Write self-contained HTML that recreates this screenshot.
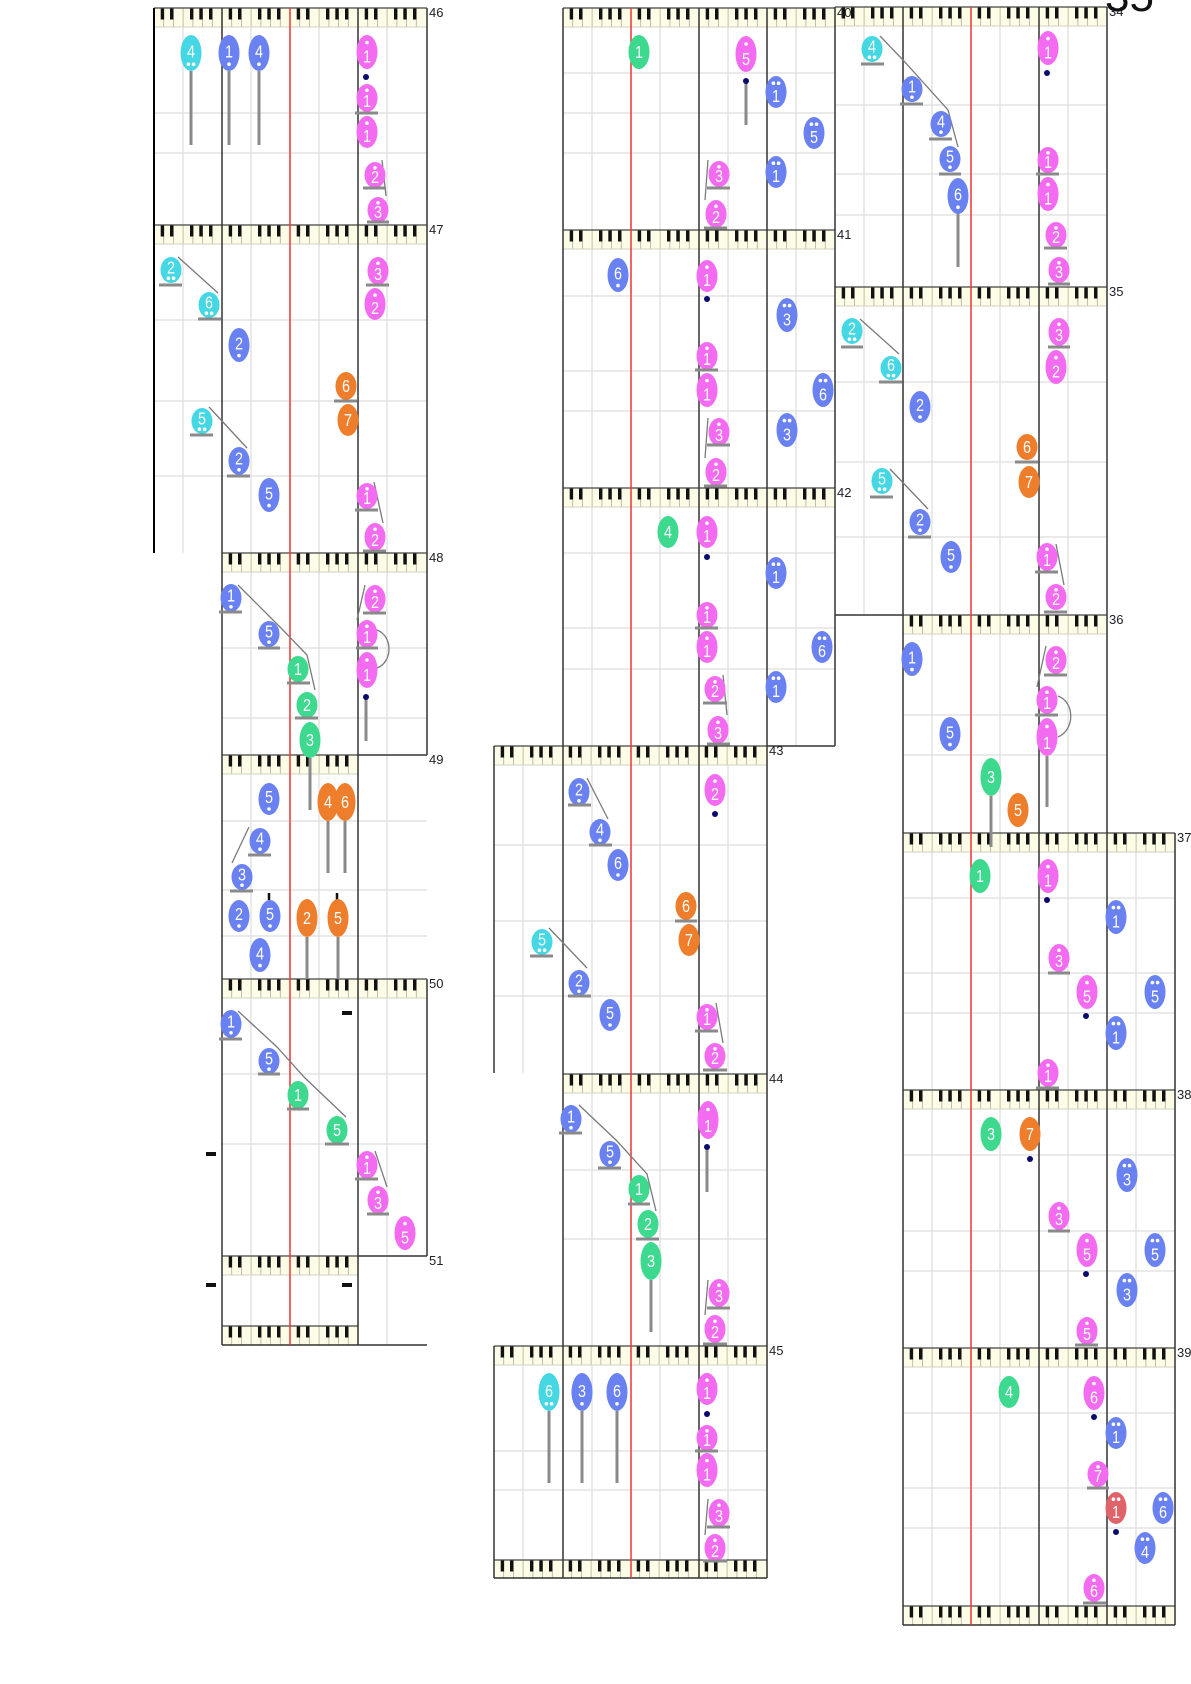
<!DOCTYPE html>
<html>
<head>
<meta charset="utf-8">
<style>
html,body{margin:0;padding:0;background:#fff;}
svg{display:block;}
.n text{fill:#fff;font-size:18px;text-anchor:middle;font-family:"Liberation Sans Narrow","Liberation Sans",sans-serif;transform:scaleX(.8);}
.n circle{fill:#fff;}
.c{fill:#45d8e4;}
.b{fill:#6a82f1;}
.p{fill:#f36bf0;}
.g{fill:#3dd98e;}
.o{fill:#ee7e2b;}
.r{fill:#e0636a;}
.lbl{font-family:"Liberation Sans",sans-serif;font-size:13px;fill:#222;}
</style>
</head>
<body>
<svg width="1191" height="1684" viewBox="0 0 1191 1684" xmlns="http://www.w3.org/2000/svg">
<defs>
<pattern id="kb" patternUnits="userSpaceOnUse" width="68" height="19">
<rect width="68" height="19" fill="#fdfce6"/>
<path d="M9.7 0V19M19.4 0V19M29.1 0V19M38.9 0V19M48.6 0V19M58.3 0V19" stroke="#b0b0a0" stroke-width=".8"/>
<path d="M6.7 0h3.4v11.5h-3.4zM16 0h3.4v11.5h-3.4zM36 0h3.4v11.5h-3.4zM45.3 0h3.4v11.5h-3.4zM55 0h3.4v11.5h-3.4z" fill="#111"/>
</pattern>
</defs>
<rect width="1191" height="1684" fill="#fff"/>

<!-- light vertical lines -->
<path d="M183 8V553M251 8V1345M319 8V1345M387 8V1345M523 746V1073M523 1346V1578M592 8V1578M660 8V1578M728 8V1578M796 8V746M864 7V615M932 7V1625M1000 7V1625M1068 7V1625M1136 833V1625" stroke="#dcdcdc" stroke-width="1.2" fill="none"/>

<!-- horizontal grid lines -->
<path d="M154 113H427M154 153H427M154 320H427M154 401H427M154 476H427M222 648H427M222 718H427M222 821H427M222 890H427M222 936H427M222 1074H427M222 1144H427
M563 73H835M563 113H835M563 153H835M563 296H835M563 371H835M563 411H835M563 553H835M563 628H835M563 669H835M494 845H767M494 921H767M494 996H767M563 1170H767M563 1239H767M494 1451H767M494 1490H767
M835 105H1107M835 174H1107M835 215H1107M835 382H1107M835 462H1107M835 537H1107M903 715H1107M903 755H1107M903 898H1175M903 973H1175M903 1013H1175M903 1155H1175M903 1231H1175M903 1271H1175M903 1413H1175M903 1488H1175M903 1528H1175" stroke="#dedede" stroke-width="1.2" fill="none"/>

<!-- keyboards -->
<g fill="url(#kb)">
<rect transform="translate(154 8)" width="272" height="19"/>
<rect transform="translate(154 225)" width="272" height="19"/>
<rect transform="translate(222 553)" width="205" height="19"/>
<rect transform="translate(222 755)" width="136" height="19"/>
<rect transform="translate(222 979)" width="205" height="19"/>
<rect transform="translate(222 1256)" width="136" height="19"/>
<rect transform="translate(222 1326)" width="136" height="19"/>
<rect transform="translate(563 8)" width="272" height="19"/>
<rect transform="translate(563 230)" width="272" height="19"/>
<rect transform="translate(563 488)" width="272" height="19"/>
<rect transform="translate(494 746)" width="273" height="19"/>
<rect transform="translate(563 1074)" width="204" height="19"/>
<rect transform="translate(494 1346)" width="273" height="19"/>
<rect transform="translate(494 1560)" width="273" height="19"/>
<rect transform="translate(835 7)" width="272" height="19"/>
<rect transform="translate(835 287)" width="272" height="19"/>
<rect transform="translate(903 615)" width="204" height="19"/>
<rect transform="translate(903 833)" width="272" height="19"/>
<rect transform="translate(903 1090)" width="272" height="19"/>
<rect transform="translate(903 1348)" width="272" height="19"/>
<rect transform="translate(903 1606)" width="272" height="19"/>
</g>
<!-- keyboard bottom borders -->
<path d="M154 27H426M154 244H426M222 572H427M222 774H358M222 998H427M222 1275H358M563 27H835M563 249H835M563 507H835M494 765H767M563 1093H767M494 1365H767M835 26H1107M835 306H1107M903 634H1107M903 852H1175M903 1109H1175M903 1367H1175" stroke="#d2d2c0" stroke-width="1" fill="none"/>
<!-- keyboard top borders -->
<path d="M154 8H427M154 225H427M222 553H427M222 755H358M222 979H427M222 1256H358M222 1326H358M563 8H835M563 230H835M563 488H835M494 746H767M563 1074H767M494 1346H767M494 1560H767M835 7H1107M835 287H1107M903 615H1107M903 833H1175M903 1090H1175M903 1348H1175M903 1606H1175" stroke="#444" stroke-width="1.3" fill="none"/>

<!-- dark vertical / frame lines -->
<path d="M222 8V1345M358 8V1345M427 8V755M427 979V1256M358 755H427M358 1256H427M222 1345H427
M494 746V1073M494 1346V1578M563 8V1578M699 8V1578M767 8V1578M835 7V746M767 746H835M494 1578H767
M903 7V1625M1039 7V1625M1107 7V1625M1175 833V1625M835 615H903M903 1625H1175" stroke="#333" stroke-width="1.5" fill="none"/>
<path d="M154 8V553" stroke="#000" stroke-width="2" fill="none"/>
<!-- red middle lines -->
<path d="M290 8V1345M631 8V1578M971 7V1625" stroke="#ee3434" stroke-width="1.5" fill="none"/>

<!-- stems -->
<path d="M191 71V145M229 71V145M259 71V145M310 758V810M366 697V741M328 821V873M345 821V873M307 937V979M338 937V979M746 81V125M651 1280V1332M707 1147V1192M549 1411V1483M582 1411V1483M617 1411V1483M958 213V267M991 796V847M1047 756V807" stroke="#8a8a8a" stroke-width="3" fill="none"/>
<path d="M269 893V900M337 893V900" stroke="#111" stroke-width="2.5"/>

<!-- slurs -->
<path d="M382 160L386 196M178 257L218 293M209 407L247 448M374 482L383 523M238 585L280 627L307 655L315 690M365 585L357 620M377 630C393 636 393 662 377 668M249 827L232 863M238 1011L277 1047L305 1078L346 1117M375 1151L387 1187
M708 160L705 200M708 418L705 458M723 675L727 715M587 778L608 819M549 928L587 968M716 1003L723 1043M579 1105L617 1141L647 1174L656 1211M708 1280L705 1315M708 1499L705 1535
M880 36L903 60L948 110L958 147M860 319L899 354M890 469L928 509M1056 544L1064 585M1046 646L1037 687M1058 696C1075 702 1075 730 1058 737" stroke="#7a7a7a" stroke-width="1.3" fill="none"/>

<!-- rests -->
<g fill="#111">
<rect x="342" y="1011" width="10" height="4"/>
<rect x="206" y="1152" width="10" height="4"/>
<rect x="206" y="1283" width="10" height="4"/>
<rect x="342" y="1283" width="10" height="4"/>
</g>

<!-- notes -->
<g class="n">
<!-- col1 sys46 -->
<g transform="translate(191 53)"><ellipse rx="10.5" ry="18" class="c"/><text y="4.5">4</text><circle cx="-2.6" cy="11.2" r="1.8"/><circle cx="2.6" cy="11.2" r="1.8"/></g>
<g transform="translate(229 53)"><ellipse rx="10.5" ry="18" class="b"/><text y="4.5">1</text><circle cy="11.2" r="1.8"/></g>
<g transform="translate(259 53)"><ellipse rx="10.5" ry="18" class="b"/><text y="4.5">4</text><circle cy="11.2" r="1.8"/></g>
<g transform="translate(367 52)"><ellipse rx="10.5" ry="17" class="p"/><circle cy="-9.4" r="1.8"/><text y="10.6">1</text></g>
<g transform="translate(367 98)"><ellipse rx="10.5" ry="14" class="p"/><circle cy="-7.7" r="1.8"/><text y="8.8">1</text></g>
<g transform="translate(367 132)"><ellipse rx="10.5" ry="16" class="p"/><circle cy="-8.8" r="1.8"/><text y="10">1</text></g>
<g transform="translate(375 175)"><ellipse rx="10.5" ry="13" class="p"/><circle cy="-7.2" r="1.8"/><text y="8.2">2</text></g>
<g transform="translate(378 210)"><ellipse rx="10.5" ry="13" class="p"/><circle cy="-7.2" r="1.8"/><text y="8.2">3</text></g>
<!-- col1 sys47 -->
<g transform="translate(171 270)"><ellipse rx="10.5" ry="13" class="c"/><text y="3.4">2</text><circle cx="-2.6" cy="8.2" r="1.8"/><circle cx="2.6" cy="8.2" r="1.8"/></g>
<g transform="translate(209 305)"><ellipse rx="10.5" ry="13" class="c"/><text y="3.4">6</text><circle cx="-2.6" cy="8.2" r="1.8"/><circle cx="2.6" cy="8.2" r="1.8"/></g>
<g transform="translate(239 345)"><ellipse rx="10.5" ry="17" class="b"/><text y="4.3">2</text><circle cy="10.6" r="1.8"/></g>
<g transform="translate(346 386)"><ellipse rx="10.5" ry="14" class="o"/><text y="6.2">6</text></g>
<g transform="translate(348 420)"><ellipse rx="10.5" ry="16" class="o"/><text y="6.2">7</text></g>
<g transform="translate(202 421)"><ellipse rx="10.5" ry="13" class="c"/><text y="3.4">5</text><circle cx="-2.6" cy="8.2" r="1.8"/><circle cx="2.6" cy="8.2" r="1.8"/></g>
<g transform="translate(239 461)"><ellipse rx="10.5" ry="14" class="b"/><text y="3.6">2</text><circle cy="8.8" r="1.8"/></g>
<g transform="translate(269 495)"><ellipse rx="10.5" ry="17" class="b"/><text y="4.3">5</text><circle cy="10.6" r="1.8"/></g>
<g transform="translate(378 271)"><ellipse rx="10.5" ry="14" class="p"/><circle cy="-7.7" r="1.8"/><text y="8.8">3</text></g>
<g transform="translate(375 304)"><ellipse rx="10.5" ry="16" class="p"/><circle cy="-8.8" r="1.8"/><text y="10">2</text></g>
<g transform="translate(367 496)"><ellipse rx="10.5" ry="13" class="p"/><circle cy="-7.2" r="1.8"/><text y="8.2">1</text></g>
<g transform="translate(375 537)"><ellipse rx="10.5" ry="14" class="p"/><circle cy="-7.7" r="1.8"/><text y="8.8">2</text></g>
<!-- col1 sys48 -->
<g transform="translate(231 598)"><ellipse rx="10.5" ry="14" class="b"/><text y="3.6">1</text><circle cy="8.8" r="1.8"/></g>
<g transform="translate(269 634)"><ellipse rx="10.5" ry="13" class="b"/><text y="3.4">5</text><circle cy="8.2" r="1.8"/></g>
<g transform="translate(298 669)"><ellipse rx="10.5" ry="13" class="g"/><text y="6.2">1</text></g>
<g transform="translate(307 705)"><ellipse rx="10.5" ry="13" class="g"/><text y="6.2">2</text></g>
<g transform="translate(310 740)"><ellipse rx="10.5" ry="18" class="g"/><text y="6.2">3</text></g>
<g transform="translate(375 599)"><ellipse rx="10.5" ry="14" class="p"/><circle cy="-7.7" r="1.8"/><text y="8.8">2</text></g>
<g transform="translate(367 634)"><ellipse rx="10.5" ry="14" class="p"/><circle cy="-7.7" r="1.8"/><text y="8.8">1</text></g>
<g transform="translate(367 670)"><ellipse rx="10.5" ry="18" class="p"/><circle cy="-10" r="1.8"/><text y="11.2">1</text></g>
<!-- col1 sys49 -->
<g transform="translate(269 799)"><ellipse rx="10.5" ry="16" class="b"/><text y="4">5</text><circle cy="10" r="1.8"/></g>
<g transform="translate(328 802)"><ellipse rx="10.5" ry="19" class="o"/><text y="6.2">4</text></g>
<g transform="translate(345 802)"><ellipse rx="10.5" ry="19" class="o"/><text y="6.2">6</text></g>
<g transform="translate(260 841)"><ellipse rx="10.5" ry="13" class="b"/><text y="3.4">4</text><circle cy="8.2" r="1.8"/></g>
<g transform="translate(242 877)"><ellipse rx="10.5" ry="13" class="b"/><text y="3.4">3</text><circle cy="8.2" r="1.8"/></g>
<g transform="translate(239 916)"><ellipse rx="10.5" ry="16" class="b"/><text y="4">2</text><circle cy="10" r="1.8"/></g>
<g transform="translate(270 916)"><ellipse rx="10.5" ry="16" class="b"/><text y="4">5</text><circle cy="10" r="1.8"/></g>
<g transform="translate(307 918)"><ellipse rx="10.5" ry="19" class="o"/><text y="6.2">2</text></g>
<g transform="translate(338 918)"><ellipse rx="10.5" ry="19" class="o"/><text y="6.2">5</text></g>
<g transform="translate(260 955)"><ellipse rx="10.5" ry="17" class="b"/><text y="4.3">4</text><circle cy="10.6" r="1.8"/></g>
<!-- col1 sys50 -->
<g transform="translate(231 1024)"><ellipse rx="10.5" ry="14" class="b"/><text y="3.6">1</text><circle cy="8.8" r="1.8"/></g>
<g transform="translate(269 1061)"><ellipse rx="10.5" ry="13" class="b"/><text y="3.4">5</text><circle cy="8.2" r="1.8"/></g>
<g transform="translate(298 1095)"><ellipse rx="10.5" ry="14" class="g"/><text y="6.2">1</text></g>
<g transform="translate(337 1130)"><ellipse rx="10.5" ry="14" class="g"/><text y="6.2">5</text></g>
<g transform="translate(367 1165)"><ellipse rx="10.5" ry="14" class="p"/><circle cy="-7.7" r="1.8"/><text y="8.8">1</text></g>
<g transform="translate(378 1200)"><ellipse rx="10.5" ry="14" class="p"/><circle cy="-7.7" r="1.8"/><text y="8.8">3</text></g>
<g transform="translate(405 1233)"><ellipse rx="10.5" ry="17" class="p"/><circle cy="-9.4" r="1.8"/><text y="10.6">5</text></g>

<!-- col2 sys40 -->
<g transform="translate(639 52)"><ellipse rx="10.5" ry="17" class="g"/><text y="6.2">1</text></g>
<g transform="translate(746 54)"><ellipse rx="10.5" ry="18" class="p"/><circle cy="-10" r="1.8"/><text y="11.2">5</text></g>
<g transform="translate(776 92)"><ellipse rx="10.5" ry="16" class="b"/><circle cx="-2.6" cy="-8.8" r="1.8"/><circle cx="2.6" cy="-8.8" r="1.8"/><text y="10">1</text></g>
<g transform="translate(814 133)"><ellipse rx="10.5" ry="16" class="b"/><circle cx="-2.6" cy="-8.8" r="1.8"/><circle cx="2.6" cy="-8.8" r="1.8"/><text y="10">5</text></g>
<g transform="translate(776 172)"><ellipse rx="10.5" ry="16" class="b"/><circle cx="-2.6" cy="-8.8" r="1.8"/><circle cx="2.6" cy="-8.8" r="1.8"/><text y="10">1</text></g>
<g transform="translate(719 174)"><ellipse rx="10.5" ry="13" class="p"/><circle cy="-7.2" r="1.8"/><text y="8.2">3</text></g>
<g transform="translate(716 214)"><ellipse rx="10.5" ry="14" class="p"/><circle cy="-7.7" r="1.8"/><text y="8.8">2</text></g>
<!-- col2 sys41 -->
<g transform="translate(618 275)"><ellipse rx="10.5" ry="17" class="b"/><text y="4.3">6</text><circle cy="10.6" r="1.8"/></g>
<g transform="translate(707 276)"><ellipse rx="10.5" ry="16" class="p"/><circle cy="-8.8" r="1.8"/><text y="10">1</text></g>
<g transform="translate(787 315)"><ellipse rx="10.5" ry="17" class="b"/><circle cx="-2.6" cy="-9.4" r="1.8"/><circle cx="2.6" cy="-9.4" r="1.8"/><text y="10.6">3</text></g>
<g transform="translate(707 356)"><ellipse rx="10.5" ry="14" class="p"/><circle cy="-7.7" r="1.8"/><text y="8.8">1</text></g>
<g transform="translate(707 390)"><ellipse rx="10.5" ry="17" class="p"/><circle cy="-9.4" r="1.8"/><text y="10.6">1</text></g>
<g transform="translate(823 390)"><ellipse rx="10.5" ry="17" class="b"/><circle cx="-2.6" cy="-9.4" r="1.8"/><circle cx="2.6" cy="-9.4" r="1.8"/><text y="10.6">6</text></g>
<g transform="translate(719 432)"><ellipse rx="10.5" ry="14" class="p"/><circle cy="-7.7" r="1.8"/><text y="8.8">3</text></g>
<g transform="translate(787 430)"><ellipse rx="10.5" ry="17" class="b"/><circle cx="-2.6" cy="-9.4" r="1.8"/><circle cx="2.6" cy="-9.4" r="1.8"/><text y="10.6">3</text></g>
<g transform="translate(716 472)"><ellipse rx="10.5" ry="14" class="p"/><circle cy="-7.7" r="1.8"/><text y="8.8">2</text></g>
<!-- col2 sys42 -->
<g transform="translate(668 532)"><ellipse rx="10.5" ry="16" class="g"/><text y="6.2">4</text></g>
<g transform="translate(707 532)"><ellipse rx="10.5" ry="16" class="p"/><circle cy="-8.8" r="1.8"/><text y="10">1</text></g>
<g transform="translate(776 573)"><ellipse rx="10.5" ry="16" class="b"/><circle cx="-2.6" cy="-8.8" r="1.8"/><circle cx="2.6" cy="-8.8" r="1.8"/><text y="10">1</text></g>
<g transform="translate(707 615)"><ellipse rx="10.5" ry="13" class="p"/><circle cy="-7.2" r="1.8"/><text y="8.2">1</text></g>
<g transform="translate(707 647)"><ellipse rx="10.5" ry="16" class="p"/><circle cy="-8.8" r="1.8"/><text y="10">1</text></g>
<g transform="translate(822 647)"><ellipse rx="10.5" ry="16" class="b"/><circle cx="-2.6" cy="-8.8" r="1.8"/><circle cx="2.6" cy="-8.8" r="1.8"/><text y="10">6</text></g>
<g transform="translate(776 687)"><ellipse rx="10.5" ry="16" class="b"/><circle cx="-2.6" cy="-8.8" r="1.8"/><circle cx="2.6" cy="-8.8" r="1.8"/><text y="10">1</text></g>
<g transform="translate(715 689)"><ellipse rx="10.5" ry="13" class="p"/><circle cy="-7.2" r="1.8"/><text y="8.2">2</text></g>
<g transform="translate(718 730)"><ellipse rx="10.5" ry="14" class="p"/><circle cy="-7.7" r="1.8"/><text y="8.8">3</text></g>
<!-- col2 sys43 -->
<g transform="translate(579 792)"><ellipse rx="10.5" ry="14" class="b"/><text y="3.6">2</text><circle cy="8.8" r="1.8"/></g>
<g transform="translate(600 832)"><ellipse rx="10.5" ry="13" class="b"/><text y="3.4">4</text><circle cy="8.2" r="1.8"/></g>
<g transform="translate(618 865)"><ellipse rx="10.5" ry="16" class="b"/><text y="4">6</text><circle cy="10" r="1.8"/></g>
<g transform="translate(715 790)"><ellipse rx="10.5" ry="16" class="p"/><circle cy="-8.8" r="1.8"/><text y="10">2</text></g>
<g transform="translate(686 906)"><ellipse rx="10.5" ry="14" class="o"/><text y="6.2">6</text></g>
<g transform="translate(689 940)"><ellipse rx="10.5" ry="16" class="o"/><text y="6.2">7</text></g>
<g transform="translate(542 942)"><ellipse rx="10.5" ry="13" class="c"/><text y="3.4">5</text><circle cx="-2.6" cy="8.2" r="1.8"/><circle cx="2.6" cy="8.2" r="1.8"/></g>
<g transform="translate(579 983)"><ellipse rx="10.5" ry="13" class="b"/><text y="3.4">2</text><circle cy="8.2" r="1.8"/></g>
<g transform="translate(610 1015)"><ellipse rx="10.5" ry="16" class="b"/><text y="4">5</text><circle cy="10" r="1.8"/></g>
<g transform="translate(707 1017)"><ellipse rx="10.5" ry="13" class="p"/><circle cy="-7.2" r="1.8"/><text y="8.2">1</text></g>
<g transform="translate(715 1056)"><ellipse rx="10.5" ry="13" class="p"/><circle cy="-7.2" r="1.8"/><text y="8.2">2</text></g>
<!-- col2 sys44 -->
<g transform="translate(571 1119)"><ellipse rx="10.5" ry="14" class="b"/><text y="3.6">1</text><circle cy="8.8" r="1.8"/></g>
<g transform="translate(610 1154)"><ellipse rx="10.5" ry="13" class="b"/><text y="3.4">5</text><circle cy="8.2" r="1.8"/></g>
<g transform="translate(639 1189)"><ellipse rx="10.5" ry="14" class="g"/><text y="6.2">1</text></g>
<g transform="translate(648 1224)"><ellipse rx="10.5" ry="14" class="g"/><text y="6.2">2</text></g>
<g transform="translate(651 1261)"><ellipse rx="10.5" ry="19" class="g"/><text y="6.2">3</text></g>
<g transform="translate(708 1120)"><ellipse rx="10.5" ry="19" class="p"/><circle cy="-10.5" r="1.8"/><text y="11.8">1</text></g>
<g transform="translate(719 1293)"><ellipse rx="10.5" ry="14" class="p"/><circle cy="-7.7" r="1.8"/><text y="8.8">3</text></g>
<g transform="translate(715 1329)"><ellipse rx="10.5" ry="14" class="p"/><circle cy="-7.7" r="1.8"/><text y="8.8">2</text></g>
<!-- col2 sys45 -->
<g transform="translate(549 1392)"><ellipse rx="10.5" ry="19" class="c"/><text y="4.8">6</text><circle cx="-2.6" cy="11.8" r="1.8"/><circle cx="2.6" cy="11.8" r="1.8"/></g>
<g transform="translate(582 1392)"><ellipse rx="10.5" ry="19" class="b"/><text y="4.8">3</text><circle cy="11.8" r="1.8"/></g>
<g transform="translate(617 1392)"><ellipse rx="10.5" ry="19" class="b"/><text y="4.8">6</text><circle cy="11.8" r="1.8"/></g>
<g transform="translate(707 1389)"><ellipse rx="10.5" ry="16" class="p"/><circle cy="-8.8" r="1.8"/><text y="10">1</text></g>
<g transform="translate(707 1438)"><ellipse rx="10.5" ry="13" class="p"/><circle cy="-7.2" r="1.8"/><text y="8.2">1</text></g>
<g transform="translate(707 1470)"><ellipse rx="10.5" ry="17" class="p"/><circle cy="-9.4" r="1.8"/><text y="10.6">1</text></g>
<g transform="translate(719 1513)"><ellipse rx="10.5" ry="14" class="p"/><circle cy="-7.7" r="1.8"/><text y="8.8">3</text></g>
<g transform="translate(715 1548)"><ellipse rx="10.5" ry="14" class="p"/><circle cy="-7.7" r="1.8"/><text y="8.8">2</text></g>

<!-- col3 sys34 -->
<g transform="translate(872 49)"><ellipse rx="10.5" ry="13" class="c"/><text y="3.4">4</text><circle cx="-2.6" cy="8.2" r="1.8"/><circle cx="2.6" cy="8.2" r="1.8"/></g>
<g transform="translate(912 89)"><ellipse rx="10.5" ry="13" class="b"/><text y="3.4">1</text><circle cy="8.2" r="1.8"/></g>
<g transform="translate(941 124)"><ellipse rx="10.5" ry="13" class="b"/><text y="3.4">4</text><circle cy="8.2" r="1.8"/></g>
<g transform="translate(950 159)"><ellipse rx="10.5" ry="13" class="b"/><text y="3.4">5</text><circle cy="8.2" r="1.8"/></g>
<g transform="translate(958 196)"><ellipse rx="10.5" ry="18" class="b"/><text y="4.5">6</text><circle cy="11.2" r="1.8"/></g>
<g transform="translate(1048 48)"><ellipse rx="10.5" ry="17" class="p"/><circle cy="-9.4" r="1.8"/><text y="10.6">1</text></g>
<g transform="translate(1048 160)"><ellipse rx="10.5" ry="13" class="p"/><circle cy="-7.2" r="1.8"/><text y="8.2">1</text></g>
<g transform="translate(1048 194)"><ellipse rx="10.5" ry="17" class="p"/><circle cy="-9.4" r="1.8"/><text y="10.6">1</text></g>
<g transform="translate(1056 235)"><ellipse rx="10.5" ry="13" class="p"/><circle cy="-7.2" r="1.8"/><text y="8.2">2</text></g>
<g transform="translate(1059 270)"><ellipse rx="10.5" ry="13" class="p"/><circle cy="-7.2" r="1.8"/><text y="8.2">3</text></g>
<!-- col3 sys35 -->
<g transform="translate(852 331)"><ellipse rx="10.5" ry="13" class="c"/><text y="3.4">2</text><circle cx="-2.6" cy="8.2" r="1.8"/><circle cx="2.6" cy="8.2" r="1.8"/></g>
<g transform="translate(891 368)"><ellipse rx="10.5" ry="12" class="c"/><text y="3.2">6</text><circle cx="-2.6" cy="7.6" r="1.8"/><circle cx="2.6" cy="7.6" r="1.8"/></g>
<g transform="translate(920 407)"><ellipse rx="10.5" ry="16" class="b"/><text y="4">2</text><circle cy="10" r="1.8"/></g>
<g transform="translate(1027 447)"><ellipse rx="10.5" ry="13" class="o"/><text y="6.2">6</text></g>
<g transform="translate(1029 482)"><ellipse rx="10.5" ry="16" class="o"/><text y="6.2">7</text></g>
<g transform="translate(882 481)"><ellipse rx="10.5" ry="13" class="c"/><text y="3.4">5</text><circle cx="-2.6" cy="8.2" r="1.8"/><circle cx="2.6" cy="8.2" r="1.8"/></g>
<g transform="translate(920 522)"><ellipse rx="10.5" ry="13" class="b"/><text y="3.4">2</text><circle cy="8.2" r="1.8"/></g>
<g transform="translate(951 557)"><ellipse rx="10.5" ry="16" class="b"/><text y="4">5</text><circle cy="10" r="1.8"/></g>
<g transform="translate(1059 332)"><ellipse rx="10.5" ry="14" class="p"/><circle cy="-7.7" r="1.8"/><text y="8.8">3</text></g>
<g transform="translate(1056 367)"><ellipse rx="10.5" ry="17" class="p"/><circle cy="-9.4" r="1.8"/><text y="10.6">2</text></g>
<g transform="translate(1047 557)"><ellipse rx="10.5" ry="14" class="p"/><circle cy="-7.7" r="1.8"/><text y="8.8">1</text></g>
<g transform="translate(1056 597)"><ellipse rx="10.5" ry="13" class="p"/><circle cy="-7.2" r="1.8"/><text y="8.2">2</text></g>
<!-- col3 sys36 -->
<g transform="translate(912 659)"><ellipse rx="10.5" ry="17" class="b"/><text y="4.3">1</text><circle cy="10.6" r="1.8"/></g>
<g transform="translate(950 734)"><ellipse rx="10.5" ry="17" class="b"/><text y="4.3">5</text><circle cy="10.6" r="1.8"/></g>
<g transform="translate(991 777)"><ellipse rx="10.5" ry="19" class="g"/><text y="6.2">3</text></g>
<g transform="translate(1018 810)"><ellipse rx="10.5" ry="17" class="o"/><text y="6.2">5</text></g>
<g transform="translate(1056 660)"><ellipse rx="10.5" ry="14" class="p"/><circle cy="-7.7" r="1.8"/><text y="8.8">2</text></g>
<g transform="translate(1047 700)"><ellipse rx="10.5" ry="14" class="p"/><circle cy="-7.7" r="1.8"/><text y="8.8">1</text></g>
<g transform="translate(1047 737)"><ellipse rx="10.5" ry="19" class="p"/><circle cy="-10.5" r="1.8"/><text y="11.8">1</text></g>
<!-- col3 sys37 -->
<g transform="translate(980 876)"><ellipse rx="10.5" ry="17" class="g"/><text y="6.2">1</text></g>
<g transform="translate(1048 876)"><ellipse rx="10.5" ry="17" class="p"/><circle cy="-9.4" r="1.8"/><text y="10.6">1</text></g>
<g transform="translate(1116 917)"><ellipse rx="10.5" ry="17" class="b"/><circle cx="-2.6" cy="-9.4" r="1.8"/><circle cx="2.6" cy="-9.4" r="1.8"/><text y="10.6">1</text></g>
<g transform="translate(1059 958)"><ellipse rx="10.5" ry="14" class="p"/><circle cy="-7.7" r="1.8"/><text y="8.8">3</text></g>
<g transform="translate(1087 992)"><ellipse rx="10.5" ry="17" class="p"/><circle cy="-9.4" r="1.8"/><text y="10.6">5</text></g>
<g transform="translate(1155 992)"><ellipse rx="10.5" ry="17" class="b"/><circle cx="-2.6" cy="-9.4" r="1.8"/><circle cx="2.6" cy="-9.4" r="1.8"/><text y="10.6">5</text></g>
<g transform="translate(1116 1033)"><ellipse rx="10.5" ry="17" class="b"/><circle cx="-2.6" cy="-9.4" r="1.8"/><circle cx="2.6" cy="-9.4" r="1.8"/><text y="10.6">1</text></g>
<g transform="translate(1048 1073)"><ellipse rx="10.5" ry="14" class="p"/><circle cy="-7.7" r="1.8"/><text y="8.8">1</text></g>
<!-- col3 sys38 -->
<g transform="translate(991 1134)"><ellipse rx="10.5" ry="17" class="g"/><text y="6.2">3</text></g>
<g transform="translate(1030 1134)"><ellipse rx="10.5" ry="17" class="o"/><text y="6.2">7</text></g>
<g transform="translate(1127 1175)"><ellipse rx="10.5" ry="17" class="b"/><circle cx="-2.6" cy="-9.4" r="1.8"/><circle cx="2.6" cy="-9.4" r="1.8"/><text y="10.6">3</text></g>
<g transform="translate(1059 1216)"><ellipse rx="10.5" ry="14" class="p"/><circle cy="-7.7" r="1.8"/><text y="8.8">3</text></g>
<g transform="translate(1087 1250)"><ellipse rx="10.5" ry="17" class="p"/><circle cy="-9.4" r="1.8"/><text y="10.6">5</text></g>
<g transform="translate(1155 1250)"><ellipse rx="10.5" ry="17" class="b"/><circle cx="-2.6" cy="-9.4" r="1.8"/><circle cx="2.6" cy="-9.4" r="1.8"/><text y="10.6">5</text></g>
<g transform="translate(1127 1290)"><ellipse rx="10.5" ry="17" class="b"/><circle cx="-2.6" cy="-9.4" r="1.8"/><circle cx="2.6" cy="-9.4" r="1.8"/><text y="10.6">3</text></g>
<g transform="translate(1087 1331)"><ellipse rx="10.5" ry="14" class="p"/><circle cy="-7.7" r="1.8"/><text y="8.8">5</text></g>
<!-- col3 sys39 -->
<g transform="translate(1009 1392)"><ellipse rx="10.5" ry="16" class="g"/><text y="6.2">4</text></g>
<g transform="translate(1094 1393)"><ellipse rx="10.5" ry="17" class="p"/><circle cy="-9.4" r="1.8"/><text y="10.6">6</text></g>
<g transform="translate(1116 1433)"><ellipse rx="10.5" ry="16" class="b"/><circle cx="-2.6" cy="-8.8" r="1.8"/><circle cx="2.6" cy="-8.8" r="1.8"/><text y="10">1</text></g>
<g transform="translate(1098 1474)"><ellipse rx="10.5" ry="13" class="p"/><circle cy="-7.2" r="1.8"/><text y="8.2">7</text></g>
<g transform="translate(1116 1508)"><ellipse rx="10.5" ry="16" class="r"/><circle cx="-2.6" cy="-8.8" r="1.8"/><circle cx="2.6" cy="-8.8" r="1.8"/><text y="10">1</text></g>
<g transform="translate(1163 1508)"><ellipse rx="10.5" ry="16" class="b"/><circle cx="-2.6" cy="-8.8" r="1.8"/><circle cx="2.6" cy="-8.8" r="1.8"/><text y="10">6</text></g>
<g transform="translate(1145 1548)"><ellipse rx="10.5" ry="16" class="b"/><circle cx="-2.6" cy="-8.8" r="1.8"/><circle cx="2.6" cy="-8.8" r="1.8"/><text y="10">4</text></g>
<g transform="translate(1094 1588)"><ellipse rx="10.5" ry="14" class="p"/><circle cy="-7.7" r="1.8"/><text y="8.8">6</text></g>
</g>

<!-- underline bars -->
<path d="M355 113H378M363 188H386M367 222H389M159 285H182M198 319H221M334 401H357M190 435H213M227 476H250M366 285H389M355 510H378M363 551H386M219 612H242M258 648H280M287 683H310M295 718H318M363 613H386M356 648H378M248 855H271M230 891H253M219 1039H242M258 1074H280M287 1109H309M325 1144H349M355 1179H378M367 1214H389
M707 188H730M704 228H727M695 370H718M707 445H730M704 486H727M695 628H718M703 703H727M707 744H730M568 805H591M589 845H612M675 921H697M530 956H553M568 996H591M695 1031H718M703 1070H727M559 1133H582M598 1168H621M628 1204H650M636 1239H659M707 1308H730M703 1344H727M695 1451H718M707 1527H730M703 1561H727
M861 64H884M900 104H923M929 139H952M939 174H961M1036 174H1059M1044 248H1067M1048 284H1070M841 347H863M879 382H902M1015 462H1038M870 497H893M908 537H931M1048 347H1070M1035 572H1058M1044 612H1067M1044 675H1067M1035 715H1058M1048 973H1070M1036 1088H1059M1048 1231H1070M1075 1345H1098M1087 1488H1109M1083 1603H1106" stroke="#8a8a8a" stroke-width="3" fill="none"/>

<!-- navy dots -->
<g fill="#0b0b6e">
<circle cx="366" cy="77" r="3"/><circle cx="366" cy="697" r="3"/><circle cx="746" cy="81" r="3"/><circle cx="707" cy="299" r="3"/><circle cx="707" cy="557" r="3"/><circle cx="715" cy="814" r="3"/><circle cx="707" cy="1147" r="3"/><circle cx="707" cy="1414" r="3"/><circle cx="1047" cy="73" r="3"/><circle cx="1047" cy="900" r="3"/><circle cx="1086" cy="1016" r="3"/><circle cx="1030" cy="1159" r="3"/><circle cx="1086" cy="1274" r="3"/><circle cx="1094" cy="1417" r="3"/><circle cx="1116" cy="1532" r="3"/>
</g>

<!-- measure labels -->
<g class="lbl">
<text x="429" y="17">46</text>
<text x="429" y="234">47</text>
<text x="429" y="562">48</text>
<text x="429" y="764">49</text>
<text x="429" y="988">50</text>
<text x="429" y="1265">51</text>
<text x="837" y="17">40</text>
<text x="837" y="239">41</text>
<text x="837" y="497">42</text>
<text x="769" y="755">43</text>
<text x="769" y="1083">44</text>
<text x="769" y="1355">45</text>
<text x="1109" y="16">34</text>
<text x="1109" y="296">35</text>
<text x="1109" y="624">36</text>
<text x="1177" y="842">37</text>
<text x="1177" y="1099">38</text>
<text x="1177" y="1357">39</text>
</g>
<text x="1105" y="11" font-family="Liberation Sans, sans-serif" font-size="44" fill="#111">35</text>
</svg>
</body>
</html>
